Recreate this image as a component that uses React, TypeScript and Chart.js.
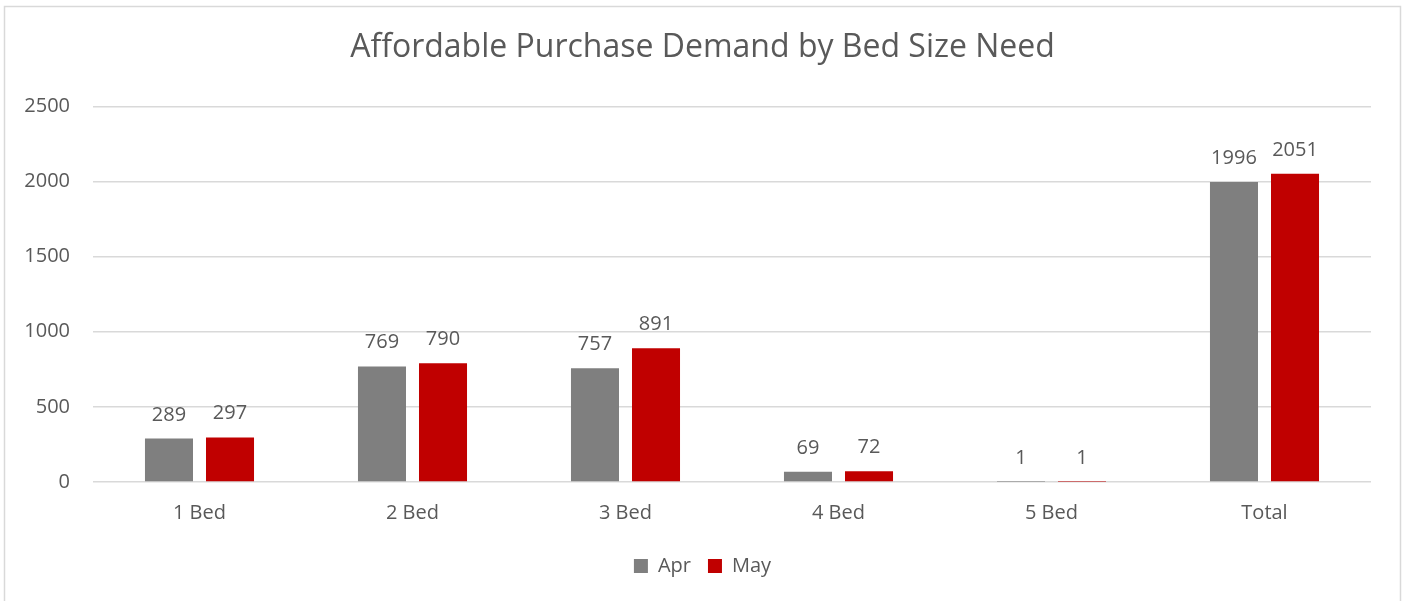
import React, { useEffect, useRef } from "react";
import { Chart, registerables } from "chart.js";

Chart.register(...registerables);

const categories = ["1 Bed", "2 Bed", "3 Bed", "4 Bed", "5 Bed", "Total"];
const aprValues = [289, 769, 757, 69, 1, 1996];
const mayValues = [297, 790, 891, 72, 1, 2051];
const seriesNames = ["Apr", "May"];
const titleText = "Affordable Purchase Demand by Bed Size Need";

const TEXT = "#595959";
const FONT = "'Open Sans', 'DejaVu Sans', sans-serif";

const borderPlugin = {
  id: "outerBorder",
  beforeDraw(chart: any) {
    const ctx = chart.ctx;
    ctx.save();
    ctx.fillStyle = "#ffffff";
    ctx.fillRect(0, 0, chart.width, chart.height);
    ctx.strokeStyle = "#d9d9d9";
    ctx.lineWidth = 1.5;
    ctx.strokeRect(4.5, 6.5, 1396, 700);
    ctx.restore();
  },
};

const labelPlugin = {
  id: "valueLabels",
  afterDatasetsDraw(chart: any) {
    const ctx = chart.ctx;
    ctx.save();
    ctx.font = `20px ${FONT}`;
    ctx.fillStyle = TEXT;
    ctx.textAlign = "center";
    ctx.textBaseline = "alphabetic";
    chart.data.datasets.forEach((ds: any, i: number) => {
      const meta = chart.getDatasetMeta(i);
      meta.data.forEach((bar: any, j: number) => {
        ctx.fillText(String(ds.data[j]), bar.x, bar.y - 18);
      });
    });
    ctx.restore();
  },
};

export default function App() {
  const ref = useRef<HTMLCanvasElement | null>(null);
  useEffect(() => {
    if (!ref.current) return;
    const chart = new Chart(ref.current, {
      type: "bar",
      data: {
        labels: categories,
        datasets: [
          {
            label: seriesNames[0],
            data: aprValues,
            backgroundColor: "#7f7f7f",
            categoryPercentage: 0.573,
            barPercentage: 0.787,
          },
          {
            label: seriesNames[1],
            data: mayValues,
            backgroundColor: "#c00000",
            categoryPercentage: 0.573,
            barPercentage: 0.787,
          },
        ],
      },
      options: {
        responsive: false,
        animation: false,
        layout: { padding: { left: 0, right: 0, top: 0, bottom: 15 } },
        plugins: {
          title: {
            display: true,
            text: titleText,
            color: TEXT,
            font: { family: FONT, size: 32, weight: "normal" },
            padding: { top: 29, bottom: 39 },
          },
          legend: {
            position: "bottom",
            labels: {
              color: TEXT,
              font: { family: FONT, size: 20 },
              boxWidth: 14,
              boxHeight: 14,
              padding: 17,
            },
          },
          tooltip: { enabled: false },
        },
        scales: {
          x: {
            grid: { display: false, drawTicks: false },
            border: { display: false },
            ticks: { color: TEXT, font: { family: FONT, size: 20 }, padding: 19 },
            afterFit: (s: any) => {
              s.height = 57;
            },
          },
          y: {
            min: 0,
            max: 2500,
            grid: { color: "#d9d9d9", lineWidth: 1.5, drawTicks: false },
            border: { display: false },
            ticks: {
              stepSize: 500,
              color: TEXT,
              font: { family: FONT, size: 20 },
              padding: 23,
              callback: (v: any) => String(v),
            },
            afterFit: (s: any) => {
              s.width = 93;
            },
          },
          yRight: {
            type: "linear",
            position: "right",
            display: true,
            grid: { display: false, drawTicks: false },
            border: { display: false },
            ticks: { display: false },
            afterFit: (s: any) => {
              s.width = 34;
            },
          },
        },
      },
      plugins: [borderPlugin, labelPlugin],
    });
    return () => chart.destroy();
  }, []);
  return (
    <div style={{ position: "absolute", left: 0, top: 0, width: 1405, height: 601 }}>
      <canvas ref={ref} width={1405} height={601} />
    </div>
  );
}
